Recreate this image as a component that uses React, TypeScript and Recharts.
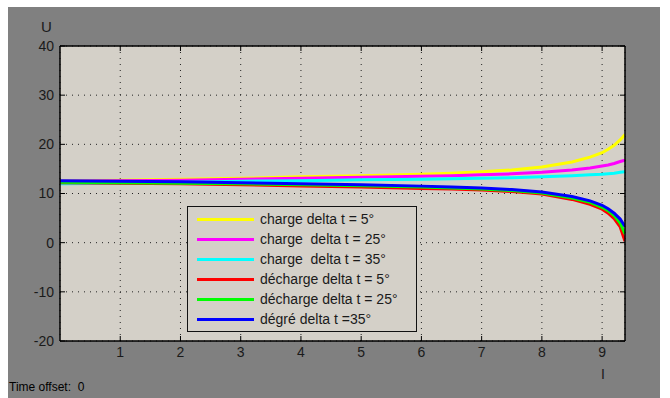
import React from 'react';
import { LineChart, Line, XAxis, YAxis, CartesianGrid, Legend } from 'recharts';

const xValues = [0, 1, 2, 3, 4, 5, 6, 6.5, 7, 7.5, 8, 8.5, 8.8, 9.0, 9.1, 9.2, 9.3, 9.38];
const chargeDelta5 = [12.6, 12.7, 12.9, 13.1, 13.4, 13.6, 13.9, 14.1, 14.4, 14.8, 15.4, 16.4, 17.4, 18.3, 19.0, 19.8, 20.9, 22.0];
const chargeDelta25 = [12.5, 12.6, 12.7, 12.9, 13.1, 13.3, 13.5, 13.6, 13.8, 14.0, 14.3, 14.8, 15.2, 15.6, 15.8, 16.1, 16.5, 16.8];
const chargeDelta35 = [12.0, 12.1, 12.3, 12.5, 12.6, 12.8, 12.9, 13.0, 13.1, 13.2, 13.4, 13.6, 13.8, 13.9, 14.0, 14.1, 14.3, 14.4];
const dechargeDelta5 = [12.2, 12.1, 12.0, 11.8, 11.5, 11.3, 11.0, 10.9, 10.7, 10.4, 9.9, 8.8, 7.8, 6.8, 6.0, 4.9, 3.2, 0.3];
const dechargeDelta25 = [12.3, 12.2, 12.1, 12.0, 11.8, 11.6, 11.3, 11.1, 10.9, 10.6, 10.1, 9.1, 8.2, 7.2, 6.5, 5.5, 4.0, 1.8];
const degreDelta35 = [12.6, 12.5, 12.4, 12.2, 12.0, 11.8, 11.5, 11.3, 11.1, 10.8, 10.3, 9.4, 8.5, 7.6, 6.9, 6.0, 4.8, 3.3];

const xTicks = [1, 2, 3, 4, 5, 6, 7, 8, 9];
const yTicks = [-20, -10, 0, 10, 20, 30, 40];

const seriesNames = [
  'charge delta t = 5°',
  'charge  delta t = 25°',
  'charge  delta t = 35°',
  'décharge delta t = 5°',
  'décharge delta t = 25°',
  'dégré delta t =35°',
];
const seriesColors = ['#ffff00', '#ff00ff', '#00ffff', '#ff0000', '#00ff00', '#0000ff'];
const seriesValues = [chargeDelta5, chargeDelta25, chargeDelta35, dechargeDelta5, dechargeDelta25, degreDelta35];

const data = xValues.map((x, i) => {
  const row: Record<string, number> = { x };
  seriesValues.forEach((s, k) => {
    row['s' + k] = s[i];
  });
  return row;
});

const FONT = '"Liberation Sans", Arial, sans-serif';
const BG = '#d4d0c8';
const TXT = '#1a1a1a';

const renderLegend = () => {
  return (
    <div
      style={{
        width: 230,
        height: 126,
        boxSizing: 'border-box',
        border: '1px solid #111',
        background: BG,
        paddingTop: 2,
        fontFamily: FONT,
        fontSize: 14,
        color: TXT,
      }}
    >
      {seriesNames.map((name, i) => (
        <div key={i} style={{ height: 20, display: 'flex', alignItems: 'center', position: 'relative' }}>
          <div style={{ position: 'absolute', left: 9, width: 57, height: 3, background: seriesColors[i] }} />
          <div style={{ position: 'absolute', left: 72, whiteSpace: 'pre', lineHeight: '20px' }}>{name}</div>
        </div>
      ))}
    </div>
  );
};

const emptyTick = () => <g />;

export default function App() {
  return (
    <div style={{ position: 'relative', width: 670, height: 398, background: '#ffffff', overflow: 'hidden' }}>
      <style>{'body{margin:0;}'}</style>
      <div style={{ position: 'absolute', left: 8, top: 7, width: 652, height: 391, background: '#808080' }}>
        <LineChart width={652} height={391} data={data} margin={{ top: 39, right: 35, bottom: 27, left: 0 }}>
          <CartesianGrid fill={BG} stroke="#222" strokeDasharray="1 5" />
          <XAxis
            dataKey="x"
            type="number"
            domain={[0, 9.38]}
            ticks={xTicks}
            allowDataOverflow
            height={30}
            tickSize={0}
            tickMargin={6}
            axisLine={{ stroke: '#000', strokeWidth: 1.5 }}
            tick={{ fill: TXT, fontSize: 14, fontFamily: FONT }}
          />
          <YAxis
            type="number"
            domain={[-20, 40]}
            ticks={yTicks}
            allowDataOverflow
            width={52}
            tickSize={0}
            tickMargin={6}
            axisLine={{ stroke: '#000', strokeWidth: 1.5 }}
            tick={{ fill: TXT, fontSize: 14, fontFamily: FONT }}
          />
          <XAxis
            xAxisId="top"
            orientation="top"
            mirror
            dataKey="x"
            type="number"
            domain={[0, 9.38]}
            ticks={xTicks}
            allowDataOverflow
            tickSize={5}
            tickLine={{ stroke: '#000' }}
            axisLine={{ stroke: '#000', strokeWidth: 1.5 }}
            tick={emptyTick}
          />
          <XAxis
            xAxisId="bottomIn"
            orientation="bottom"
            mirror
            dataKey="x"
            type="number"
            domain={[0, 9.38]}
            ticks={xTicks}
            allowDataOverflow
            tickSize={5}
            tickLine={{ stroke: '#000' }}
            axisLine={false}
            tick={emptyTick}
          />
          <YAxis
            yAxisId="right"
            orientation="right"
            mirror
            type="number"
            domain={[-20, 40]}
            ticks={yTicks}
            allowDataOverflow
            tickSize={5}
            tickLine={{ stroke: '#000' }}
            axisLine={{ stroke: '#000', strokeWidth: 1.5 }}
            tick={emptyTick}
          />
          <YAxis
            yAxisId="leftIn"
            orientation="left"
            mirror
            type="number"
            domain={[-20, 40]}
            ticks={yTicks}
            allowDataOverflow
            tickSize={5}
            tickLine={{ stroke: '#000' }}
            axisLine={false}
            tick={emptyTick}
          />
          <Legend
            layout="vertical"
            align="center"
            verticalAlign="middle"
            content={renderLegend}
            wrapperStyle={{ left: 179, top: 199, width: 230, height: 126 }}
          />
          {seriesValues.map((_, k) => (
            <Line
              key={k}
              type="linear"
              dataKey={'s' + k}
              name={seriesNames[k]}
              stroke={seriesColors[k]}
              strokeWidth={3}
              dot={false}
              activeDot={false}
              isAnimationActive={false}
            />
          ))}
        </LineChart>
      </div>
      <div style={{ position: 'absolute', left: 41, top: 18, fontFamily: FONT, fontSize: 15, color: TXT }}>U</div>
      <div style={{ position: 'absolute', left: 601, top: 366, fontFamily: FONT, fontSize: 14, color: TXT }}>I</div>
      <div style={{ position: 'absolute', left: 9, top: 380, fontFamily: FONT, fontSize: 12, color: '#000', whiteSpace: 'pre' }}>
        {'Time offset:  0'}
      </div>
    </div>
  );
}
